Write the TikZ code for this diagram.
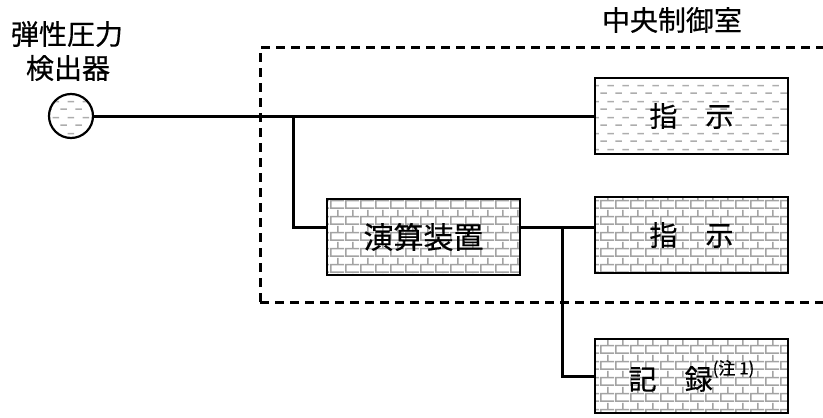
\documentclass[tikz,border=0pt]{standalone}
\usepackage{fontspec}
\newfontfamily\jp[FakeBold=0.5]{Noto Sans CJK JP}
\usetikzlibrary{patterns}
\pgfdeclarepatternformonly{mybricks}{\pgfpointorigin}{\pgfpoint{7.5pt}{8pt}}{\pgfpoint{7.5pt}{8pt}}{
  \pgfsetlinewidth{0.8pt}
  \pgfpathmoveto{\pgfpoint{0pt}{0.4pt}}\pgfpathlineto{\pgfpoint{7.5pt}{0.4pt}}
  \pgfpathmoveto{\pgfpoint{0pt}{4.4pt}}\pgfpathlineto{\pgfpoint{7.5pt}{4.4pt}}
  \pgfpathmoveto{\pgfpoint{0.4pt}{0.4pt}}\pgfpathlineto{\pgfpoint{0.4pt}{4.4pt}}
  \pgfpathmoveto{\pgfpoint{4.15pt}{4.4pt}}\pgfpathlineto{\pgfpoint{4.15pt}{8pt}}
  \pgfusepath{stroke}}
\pgfdeclarepatternformonly{mydashes}{\pgfpointorigin}{\pgfpoint{7.5pt}{8pt}}{\pgfpoint{7.5pt}{8pt}}{
  \pgfsetlinewidth{0.8pt}
  \pgfpathmoveto{\pgfpoint{0.2pt}{2pt}}\pgfpathlineto{\pgfpoint{3.6pt}{2pt}}
  \pgfpathmoveto{\pgfpoint{3.95pt}{6pt}}\pgfpathlineto{\pgfpoint{7.35pt}{6pt}}
  \pgfusepath{stroke}}
\begin{document}
\begin{tikzpicture}[x=0.5pt,y=-0.5pt,
  every node/.style={font=\jp\fontsize{14pt}{16pt}\selectfont},
  brickbox/.style={draw=black,line width=1.1pt,pattern=mybricks,pattern color=black!36,
    minimum width=96.5pt,minimum height=38pt,inner sep=0pt},
  dashbox/.style={draw=black,line width=1.1pt,pattern=mydashes,pattern color=black!32,
    minimum width=96.5pt,minimum height=38pt,inner sep=0pt},
  wire/.style={line width=1.5pt},
  frame/.style={line width=1.5pt,dash pattern=on 4.5pt off 3pt}]
\useasboundingbox (0,0) rectangle (823,417);
\clip (0,0) rectangle (823,417);
% frame
\draw[frame] (260,302) -- (260,48) -- (830,48);
\draw[frame] (260,302) -- (830,302);
% labels
\node (lab1) at (67,34) {弾性圧力};
\node (lab2) at (68,68) {検出器};
\node (lab3) at (672,20) {中央制御室};
% sensor
\node[circle,draw=black,line width=1.1pt,pattern=mydashes,pattern color=black!32,
  minimum size=22pt,inner sep=0pt] (sens) at (71,116) {};
% boxes
\node[dashbox] (ind1) at (691.5,116) {指　示};
\node[brickbox] (calc) at (423.5,237) {\fontsize{15pt}{16pt}\selectfont 演算装置};
\node[brickbox] (ind2) at (691.5,235) {指　示};
\node[brickbox,minimum height=37pt] (rec) at (691.5,376) {記　録\raisebox{1.0ex}{\fontsize{8.5pt}{8.5pt}\selectfont (注 1)}};
% connectors
\coordinate (j1) at (293,116);
\coordinate (j2) at (562,227);
\coordinate (rowb) at (0,227);
\draw[wire] (sens.east) -- (ind1.west);
\draw[wire] (j1) |- (calc.west |- rowb);
\draw[wire] (calc.east |- rowb) -- (ind2.west |- rowb);
\draw[wire] (j2) |- (rec.west);
\end{tikzpicture}
\end{document}
